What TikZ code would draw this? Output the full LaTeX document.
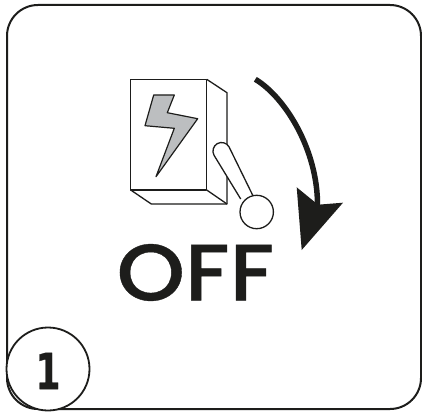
\documentclass[tikz,border=0pt]{standalone}
\usepackage{fontspec}
\newfontfamily\offfont[FakeStretch=1.085,FakeBold=0.5]{Poppins Medium}
\newfontfamily\numfont[FakeStretch=0.72,FakeBold=0.5]{DejaVu Sans Bold}
\definecolor{ink}{HTML}{1D1D1B}
\definecolor{bolt}{HTML}{BCBEC0}
\tikzset{
  frameline/.style={draw=ink,line width=2pt},
  thin line/.style={draw=ink,line width=1.3pt,line join=round},
}
\begin{document}
\begin{tikzpicture}[x=1pt,y=-1pt]
\useasboundingbox (0,0) rectangle (422,414);
\fill[white] (0,0) rectangle (422,414);
% frame
\draw[frameline,rounded corners=31pt] (7,5) rectangle (421,409);
\node[circle,draw=ink,line width=1.8pt,fill=white,minimum size=83pt,inner sep=0pt] (badge) at (48,369) {};
\node[inner sep=0pt,text=ink,font=\numfont\fontsize{50}{50}\selectfont] (num) at (48,371) {1};
% switch box
\coordinate (a) at (130.7,79.3);
\coordinate (b) at (206.7,79.3);
\coordinate (c) at (206.7,190);
\coordinate (d) at (130.7,190);
\coordinate (e) at (227,92.7);
\coordinate (f) at (227,204);
\coordinate (g) at (151.3,204);
\draw[thin line] (a) -- (b) -- (c) -- (d) -- cycle;
\draw[thin line] (b) -- (e) -- (f) -- (g) -- (d);
\draw[thin line] (c) -- (f);
% bolt
\draw[draw=ink,line width=1.2pt,fill=bolt,line join=round]
  (153.7,95) -- (174.3,95) -- (167.3,112.7) -- (197.7,118.7) -- (156,176.7) -- (174.3,128.3) -- (145,125.7) -- cycle;
% handle
\draw[thin line,fill=white] (256,202) -- (229,146.8)
   arc[start angle=-30,end angle=-210,radius=8.6] -- (240.7,199);
\node[circle,draw=ink,line width=1.3pt,fill=white,minimum size=33.4pt,inner sep=0pt] (knob) at (256.7,212) {};
% arrow
\draw[draw=ink,line width=5.5pt] (255.3,79.3) .. controls (285,97) and (318,150) .. (317.5,206);
\fill[ink] (296.7,187.3) -- (318,204.7) -- (343,202.7) -- (301.7,250) -- cycle;
% text
\node[inner sep=0pt,text=ink,font=\offfont\fontsize{80}{80}\selectfont] (off) at (195.5,272.5) {OFF};
\end{tikzpicture}
\end{document}
